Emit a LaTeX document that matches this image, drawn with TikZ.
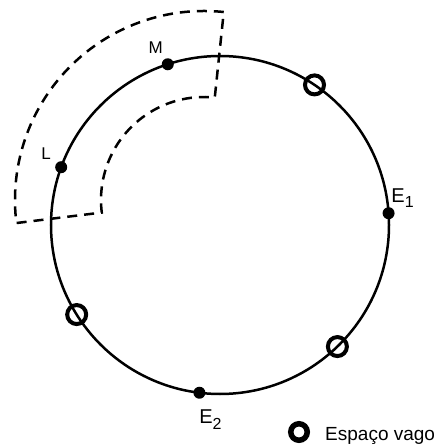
\documentclass[tikz,border=0pt]{standalone}
\usepackage{fontspec}
\setmainfont{Liberation Sans}
\usetikzlibrary{positioning}
\newcommand\sub[2]{#1\raisebox{-0.55ex}{\fontsize{16}{16}\selectfont #2}}
\tikzset{
  orbit/.style={circle,draw,line width=2.5pt,inner sep=0pt,outer sep=0pt,minimum size=338pt},
  dot/.style={circle,fill,inner sep=0pt,minimum size=12pt},
  vago/.style={circle,draw,line width=4pt,inner sep=0pt,minimum size=19pt},
  sector/.style={line width=2.5pt,dash pattern=on 10pt off 7pt},
  lbl/.style={inner sep=0pt,font=\fontsize{17}{17}\selectfont},
  elbl/.style={inner sep=0pt,font=\fontsize{20}{20}\selectfont},
  legend/.style={inner sep=0pt,font=\fontsize{19}{19}\selectfont}
}
\begin{document}
\begin{tikzpicture}[x=1pt,y=1pt]
  \useasboundingbox (-220,-221) rectangle (220,225);
  % orbit and its positions
  \node[orbit] (orb) at (0,0) {};
  \node[dot] (M) at (orb.108) {};
  \node[dot] (L) at (orb.160) {};
  \node[dot] (E1) at (orb.4.7) {};
  \node[dot] (E2) at (orb.263) {};
  \node[vago] (v1) at (orb.56) {};
  \node[vago] (v2) at (orb.212) {};
  \node[vago] (v3) at (orb.314) {};
  % labels
  \node[lbl] at ([shift={(-12,17)}]M) {M};
  \node[lbl] at ([shift={(-15,14)}]L) {L};
  \node[elbl] at ([shift={(14,15)}]E1) {\sub{E}{1}};
  \node[elbl] at ([shift={(11,-27)}]E2) {\sub{E}{2}};
  % dashed sector
  \draw[sector,shift={(-16,25)}] (84:189pt) arc[start angle=84,end angle=187,radius=189pt]
    -- (187:103pt) arc[start angle=187,end angle=84,radius=103pt] -- cycle;
  % legend
  \node[vago,line width=5.5pt,minimum size=16.5pt] (key) at (79,-207) {};
  \node[legend,anchor=base west] at ([shift={(26,-8)}]key.center) {Espaço vago};
\end{tikzpicture}
\end{document}
